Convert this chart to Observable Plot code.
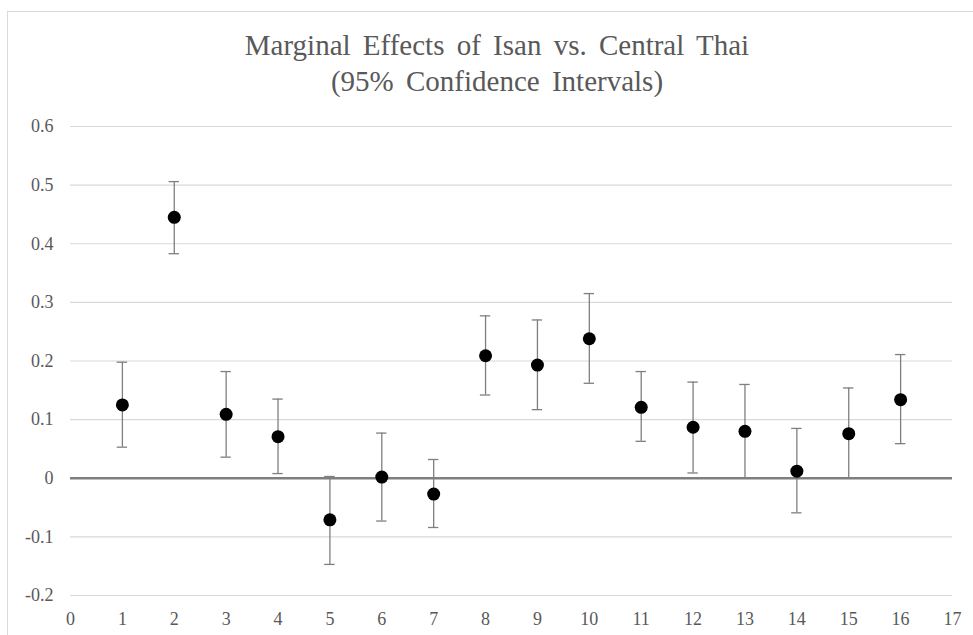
<!DOCTYPE html>
<html><head><meta charset="utf-8">
<script src="https://cdn.jsdelivr.net/npm/d3@7"></script>
<script src="https://cdn.jsdelivr.net/npm/@observablehq/plot@0.6"></script>
<style>
body{margin:0;background:#fff;}
#wrap{position:relative;width:973px;height:635px;overflow:hidden;background:#fff;}
#frame{position:absolute;left:7px;top:11px;width:990px;height:640px;border:1.5px solid #d9d9d9;box-sizing:border-box;pointer-events:none;}
#title{position:absolute;left:0;width:994px;top:27px;text-align:center;font-family:"Liberation Serif","Times New Roman",Times,"DejaVu Serif",serif;font-size:29px;color:#595959;line-height:36px;word-spacing:5px;}
#chart{position:absolute;left:0;top:0;}
</style>
</head><body>
<div id="wrap"><div id="chart"></div><div id="frame"></div>
<div id="title">Marginal Effects of Isan vs. Central Thai<br>(95% Confidence Intervals)</div></div>
<script>
const categories = [1,2,3,4,5,6,7,8,9,10,11,12,13,14,15,16];
const estimate = [0.125,0.445,0.109,0.071,-0.071,0.002,-0.027,0.209,0.193,0.238,0.121,0.087,0.080,0.012,0.076,0.134];
const lower = [0.053,0.383,0.036,0.008,-0.147,-0.073,-0.084,0.142,0.117,0.162,0.063,0.009,0.001,-0.059,0.001,0.059];
const upper = [0.198,0.506,0.182,0.135,0.003,0.077,0.032,0.277,0.270,0.315,0.182,0.164,0.160,0.085,0.154,0.211];
const xTicks = [0,1,2,3,4,5,6,7,8,9,10,11,12,13,14,15,16,17];
const yTicks = [-0.2,-0.1,0,0.1,0.2,0.3,0.4,0.5,0.6];

const data = categories.map((x,i)=>({x, est: estimate[i], lo: lower[i], hi: upper[i]}));
const capHalf = 0.1;
const fmtY = d => d === 0 ? "0" : d.toFixed(1);

const chart = Plot.plot({
  width: 973, height: 635,
  marginTop: 126, marginBottom: 40, marginLeft: 70, marginRight: 21,
  style: {fontFamily: "'Liberation Serif', 'Times New Roman', Times, 'DejaVu Serif', serif", fontSize: "18px", color: "#595959", background: "transparent"},
  x: {domain: [0,17], label: null},
  y: {domain: [-0.2,0.6], label: null},
  marks: [
    Plot.ruleY(yTicks.filter(d => d !== 0), {stroke: "#d9d9d9", strokeWidth: 1.2}),
    Plot.ruleY([0], {stroke: "#7f7f7f", strokeWidth: 2.5}),
    Plot.axisX({ticks: xTicks, tickSize: 0, tickPadding: 17, tickFormat: d => String(d), label: null}),
    Plot.axisY({ticks: yTicks, tickSize: 0, tickPadding: 17, tickFormat: fmtY, label: null}),
    Plot.ruleX(data, {x: "x", y1: "lo", y2: "hi", stroke: "#7f7f7f", strokeWidth: 1.3}),
    Plot.ruleY(data, {y: "hi", x1: d => d.x - capHalf, x2: d => d.x + capHalf, stroke: "#7f7f7f", strokeWidth: 1.3}),
    Plot.ruleY(data, {y: "lo", x1: d => d.x - capHalf, x2: d => d.x + capHalf, stroke: "#7f7f7f", strokeWidth: 1.3}),
    Plot.dot(data, {x: "x", y: "est", r: 6.5, fill: "#000", stroke: "none"})
  ]
});
document.getElementById("chart").appendChild(chart);
</script>
</body></html>
